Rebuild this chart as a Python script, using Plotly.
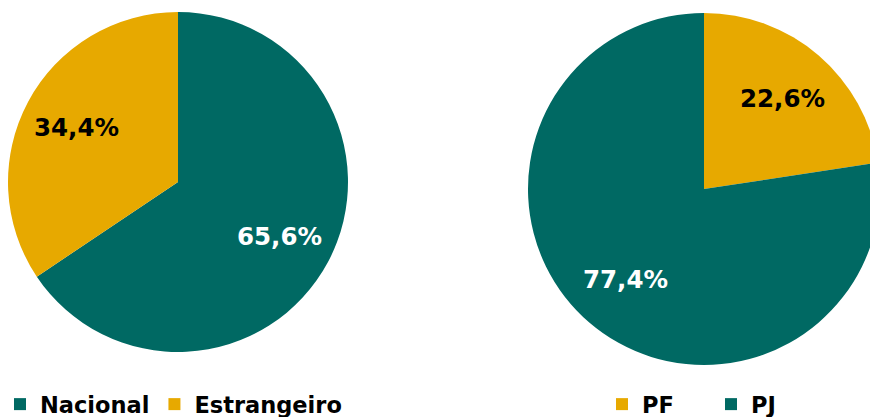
import math
import plotly.graph_objects as go

# Data
left_labels = ["Nacional", "Estrangeiro"]
left_values = [65.6, 34.4]
right_labels = ["PF", "PJ"]
right_values = [22.6, 77.4]

TEAL = "#006963"
GOLD = "#E7A900"
left_colors = [TEAL, GOLD]
right_colors = [GOLD, TEAL]
left_text_colors = ["white", "black"]
right_text_colors = ["black", "white"]

W, H = 890, 417
FONT = "DejaVu Sans"

def dom(cx, cy, r):
    return dict(x=[(cx - r) / W, (cx + r) / W],
                y=[(H - cy - r) / H, (H - cy + r) / H])

L = dict(cx=178, cy=182, r=170)
R = dict(cx=704, cy=189, r=176)

fig = go.Figure()
fig.add_trace(go.Pie(labels=left_labels, values=left_values, sort=False,
                     direction="clockwise", rotation=0,
                     marker=dict(colors=left_colors, line=dict(width=0)),
                     textinfo="none", domain=dom(**L), legend="legend",
                     hoverinfo="label+percent"))
fig.add_trace(go.Pie(labels=right_labels, values=right_values, sort=False,
                     direction="clockwise", rotation=0,
                     marker=dict(colors=right_colors, line=dict(width=0)),
                     textinfo="none", domain=dom(**R), legend="legend2",
                     hoverinfo="label+percent"))

def add_labels(values, tcolors, cx, cy, r, frac=0.68):
    total = sum(values)
    cum = 0
    for v, c in zip(values, tcolors):
        mid = (cum + v / 2) / total * 2 * math.pi
        cum += v
        x = cx + frac * r * math.sin(mid)
        y = cy - frac * r * math.cos(mid)
        fig.add_annotation(x=x / W, y=(H - y) / H, xref="paper", yref="paper",
                           xanchor="center", yanchor="middle",
                           text=f"<b>{v:.1f}%</b>".replace(".", ","),
                           showarrow=False,
                           font=dict(family=FONT, size=24.5, color=c))

add_labels(left_values, left_text_colors, **L)
add_labels(right_values, right_text_colors, **R)

legend_common = dict(orientation="h", yanchor="top", xanchor="left",
                     bgcolor="rgba(0,0,0,0)",
                     font=dict(family=FONT, size=22.5, color="black", weight="bold"))

fig.update_layout(
    width=W, height=H, margin=dict(l=0, r=0, t=0, b=0, autoexpand=False),
    paper_bgcolor="white", plot_bgcolor="white",
    showlegend=True,
    legend=dict(x=0 / W, y=1 - 383 / H, **legend_common),
    legend2=dict(x=602 / W, y=1 - 383 / H, entrywidth=64, **legend_common),
)

fig.write_html("out.html", config={"displayModeBar": False},
               post_script="document.body.style.margin='0';document.body.style.overflow='hidden';document.documentElement.style.overflow='hidden';")
